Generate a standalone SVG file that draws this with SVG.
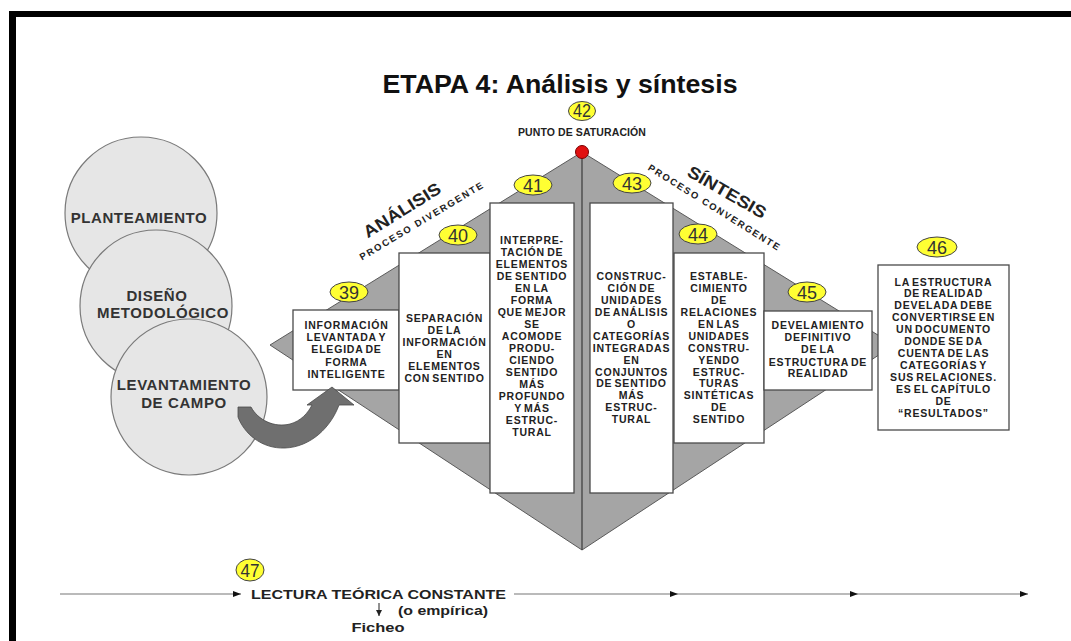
<svg xmlns="http://www.w3.org/2000/svg" width="1071" height="641" viewBox="0 0 1071 641">
<style>
text{font-family:"Liberation Sans",Arial,sans-serif}
.frame{fill:#000}
.dia{fill:#a5a5a5;stroke:#5a5a5a;stroke-width:1}
.circ{fill:#e6e6e6;stroke:#7a7a7a;stroke-width:1.2}
.ct{font-size:15px;font-weight:bold;fill:#333;text-anchor:middle;letter-spacing:0.6px}
.box{fill:#fff;stroke:#4a4a4a;stroke-width:1.3}
.bt{font-size:10.5px;font-weight:bold;fill:#222;text-anchor:middle;letter-spacing:0.8px;word-spacing:-1.5px}
.lab{fill:#ffff33;stroke:#444;stroke-width:1}
.num{font-size:18px;fill:#333;text-anchor:middle}
.rot{font-weight:bold;fill:#222;text-anchor:middle}
.tl{stroke:#777;stroke-width:1.2;fill:none}
.bot{font-weight:bold;fill:#222}
</style>
<defs>
<marker id="ah" viewBox="0 0 8 6" refX="8" refY="3" markerWidth="8" markerHeight="6" markerUnits="userSpaceOnUse" orient="auto">
<path d="M0,0 L8,3 L0,6 Z" fill="#111"/>
</marker>
<marker id="ah2" viewBox="0 0 6 6" refX="6" refY="3" markerWidth="6" markerHeight="6" markerUnits="userSpaceOnUse" orient="auto">
<path d="M0,0 L6,3 L0,6 Z" fill="#222"/>
</marker>
</defs>
<rect width="1071" height="641" fill="#fff"/>
<g id="frame">
<rect class="frame" x="9" y="11" width="7" height="630"/>
<rect class="frame" x="9" y="11" width="1062" height="6"/>
</g>
<g id="title">
<text x="560" y="93" font-size="25" font-weight="bold" fill="#111" text-anchor="middle" textLength="355" lengthAdjust="spacingAndGlyphs">ETAPA 4: Análisis y síntesis</text>
</g>
<g id="circles">
<g id="planteamiento">
<circle class="circ" cx="141" cy="213" r="76"/>
<text class="ct" x="139" y="222.5">PLANTEAMIENTO</text>
</g>
<g id="diseno">
<circle class="circ" cx="156" cy="306" r="76"/>
<text class="ct" x="157" y="301">DISEÑO</text>
<text class="ct" x="163" y="317.5">METODOLÓGICO</text>
</g>
<g id="levantamiento">
<circle class="circ" cx="189" cy="397" r="78"/>
<text class="ct" x="184" y="389.5">LEVANTAMIENTO</text>
<text class="ct" x="184" y="407.5">DE CAMPO</text>
</g>
</g>
<g id="diamond">
<path class="dia" d="M582,152 L894,345 L582,550 L270,345 Z"/>
<line x1="582" y1="152" x2="582" y2="550" stroke="#3a3a3a" stroke-width="1.2"/>
</g>
<g id="saturacion">
<ellipse class="lab" cx="582" cy="111" rx="13.5" ry="9.5"/>
<text class="num" x="582" y="117" font-size="16" textLength="18" lengthAdjust="spacingAndGlyphs">42</text>
<text x="582" y="136" font-size="10.5" font-weight="bold" fill="#222" text-anchor="middle" letter-spacing="0.1">PUNTO DE SATURACIÓN</text>
<circle cx="582" cy="152" r="6.5" fill="#e01010" stroke="#7a0000" stroke-width="1"/>
</g>
<g id="analisis-label">
<text class="rot" font-size="17" transform="translate(402,210) rotate(-32)" y="6" textLength="88" lengthAdjust="spacingAndGlyphs">ANÁLISIS</text>
<text class="rot" font-size="9.5" transform="translate(421,221) rotate(-31)" y="3.5" textLength="142" lengthAdjust="spacing">PROCESO DIVERGENTE</text>
</g>
<g id="sintesis-label">
<text class="rot" font-size="17" transform="translate(727,192) rotate(30)" y="6" textLength="88" lengthAdjust="spacingAndGlyphs">SÍNTESIS</text>
<text class="rot" font-size="9.5" transform="translate(714,207) rotate(32)" y="3.5" textLength="153" lengthAdjust="spacing">PROCESO CONVERGENTE</text>
</g>
<g id="n39">
<rect class="box" x="293" y="310" width="106" height="80"/>
<text class="bt" x="346.5" y="329"><tspan x="346.5">INFORMACIÓN</tspan><tspan x="346.5" dy="12.2">LEVANTADA Y</tspan><tspan x="346.5" dy="12.2">ELEGIDA DE</tspan><tspan x="346.5" dy="12.2">FORMA</tspan><tspan x="346.5" dy="12.2">INTELIGENTE</tspan></text>
<ellipse class="lab" cx="349" cy="292" rx="19" ry="10"/>
<text class="num" x="349" y="298.5">39</text>
</g>
<g id="n40">
<rect class="box" x="399" y="253" width="91" height="190"/>
<text class="bt" x="444.5" y="321.5"><tspan x="444.5">SEPARACIÓN</tspan><tspan x="444.5" dy="12.1">DE LA</tspan><tspan x="444.5" dy="12.1">INFORMACIÓN</tspan><tspan x="444.5" dy="12.1">EN</tspan><tspan x="444.5" dy="12.1">ELEMENTOS</tspan><tspan x="444.5" dy="12.1">CON SENTIDO</tspan></text>
<ellipse class="lab" cx="458" cy="235" rx="19" ry="10"/>
<text class="num" x="458" y="241.5">40</text>
</g>
<g id="n41">
<rect class="box" x="490" y="203" width="84" height="290"/>
<text class="bt" x="532" y="244"><tspan x="532">INTERPRE-</tspan><tspan x="532" dy="12">TACIÓN DE</tspan><tspan x="532" dy="12">ELEMENTOS</tspan><tspan x="532" dy="12">DE SENTIDO</tspan><tspan x="532" dy="12">EN LA</tspan><tspan x="532" dy="12">FORMA</tspan><tspan x="532" dy="12">QUE MEJOR</tspan><tspan x="532" dy="12">SE</tspan><tspan x="532" dy="12">ACOMODE</tspan><tspan x="532" dy="12">PRODU-</tspan><tspan x="532" dy="12">CIENDO</tspan><tspan x="532" dy="12">SENTIDO</tspan><tspan x="532" dy="12">MÁS</tspan><tspan x="532" dy="12">PROFUNDO</tspan><tspan x="532" dy="12">Y MÁS</tspan><tspan x="532" dy="12">ESTRUC-</tspan><tspan x="532" dy="12">TURAL</tspan></text>
<ellipse class="lab" cx="533" cy="185" rx="19" ry="10"/>
<text class="num" x="533" y="191.5">41</text>
</g>
<g id="n43">
<rect class="box" x="590" y="203" width="83" height="290"/>
<text class="bt" x="631.5" y="280"><tspan x="631.5">CONSTRUC-</tspan><tspan x="631.5" dy="11.94">CIÓN DE</tspan><tspan x="631.5" dy="11.94">UNIDADES</tspan><tspan x="631.5" dy="11.94">DE ANÁLISIS</tspan><tspan x="631.5" dy="11.94">O</tspan><tspan x="631.5" dy="11.94">CATEGORÍAS</tspan><tspan x="631.5" dy="11.94">INTEGRADAS</tspan><tspan x="631.5" dy="11.94">EN</tspan><tspan x="631.5" dy="11.94">CONJUNTOS</tspan><tspan x="631.5" dy="11.94">DE SENTIDO</tspan><tspan x="631.5" dy="11.94">MÁS</tspan><tspan x="631.5" dy="11.94">ESTRUC-</tspan><tspan x="631.5" dy="11.94">TURAL</tspan></text>
<ellipse class="lab" cx="632" cy="183" rx="19" ry="10"/>
<text class="num" x="632" y="189.5">43</text>
</g>
<g id="n44">
<rect class="box" x="674" y="253" width="90" height="190"/>
<text class="bt" x="719" y="280"><tspan x="719">ESTABLE-</tspan><tspan x="719" dy="11.94">CIMIENTO</tspan><tspan x="719" dy="11.94">DE</tspan><tspan x="719" dy="11.94">RELACIONES</tspan><tspan x="719" dy="11.94">EN LAS</tspan><tspan x="719" dy="11.94">UNIDADES</tspan><tspan x="719" dy="11.94">CONSTRU-</tspan><tspan x="719" dy="11.94">YENDO</tspan><tspan x="719" dy="11.94">ESTRUC-</tspan><tspan x="719" dy="11.94">TURAS</tspan><tspan x="719" dy="11.94">SINTÉTICAS</tspan><tspan x="719" dy="11.94">DE</tspan><tspan x="719" dy="11.94">SENTIDO</tspan></text>
<ellipse class="lab" cx="698" cy="234" rx="19" ry="10"/>
<text class="num" x="698" y="240.5">44</text>
</g>
<g id="n45">
<rect class="box" x="764" y="311" width="108" height="79"/>
<text class="bt" x="818" y="329"><tspan x="818">DEVELAMIENTO</tspan><tspan x="818" dy="12">DEFINITIVO</tspan><tspan x="818" dy="12">DE LA</tspan><tspan x="818" dy="12.5">ESTRUCTURA DE</tspan><tspan x="818" dy="11.5">REALIDAD</tspan></text>
<ellipse class="lab" cx="807" cy="292" rx="19" ry="10"/>
<text class="num" x="807" y="298.5">45</text>
</g>
<g id="n46">
<rect class="box" x="878" y="265" width="131" height="165"/>
<text class="bt" x="943.5" y="285.5"><tspan x="943.5">LA ESTRUCTURA</tspan><tspan x="943.5" dy="11.96">DE REALIDAD</tspan><tspan x="943.5" dy="11.96">DEVELADA DEBE</tspan><tspan x="943.5" dy="11.96">CONVERTIRSE EN</tspan><tspan x="943.5" dy="11.96">UN DOCUMENTO</tspan><tspan x="943.5" dy="11.96">DONDE SE DA</tspan><tspan x="943.5" dy="11.96">CUENTA DE LAS</tspan><tspan x="943.5" dy="11.96">CATEGORÍAS Y</tspan><tspan x="943.5" dy="11.96">SUS RELACIONES.</tspan><tspan x="943.5" dy="11.96">ES EL CAPÍTULO</tspan><tspan x="943.5" dy="11.96">DE</tspan><tspan x="943.5" dy="11.96">“RESULTADOS”</tspan></text>
<ellipse class="lab" cx="937" cy="247" rx="20" ry="10"/>
<text class="num" x="937" y="253.5">46</text>
</g>
<g id="n47">
<ellipse class="lab" cx="250" cy="570" rx="14" ry="11"/>
<text class="num" x="250" y="576.5" textLength="19" lengthAdjust="spacingAndGlyphs">47</text>
<text class="bot" x="251" y="599" font-size="13" textLength="255" lengthAdjust="spacingAndGlyphs">LECTURA TEÓRICA CONSTANTE</text>
<text class="bot" x="398" y="615" font-size="12" textLength="90" lengthAdjust="spacingAndGlyphs">(o empírica)</text>
<text class="bot" x="351.5" y="631.5" font-size="12" textLength="53" lengthAdjust="spacingAndGlyphs">Ficheo</text>
</g>
<g id="connectors">
<path d="M238,407 L251,407 C258,420 274,428 290,424 C301,421 308,413 312,405 L307,405 L332,387 L354,405 L339,405 C331,427 311,447 285,448 C261,449 244,433 238,417 Z" fill="#6f6f6f" stroke="#4a4a4a" stroke-width="0.8"/>
<line class="tl" x1="60" y1="594" x2="241" y2="594" marker-end="url(#ah)"/>
<line class="tl" x1="514" y1="594" x2="678" y2="594" marker-end="url(#ah)"/>
<line class="tl" x1="678" y1="594" x2="858" y2="594" marker-end="url(#ah)"/>
<line class="tl" x1="858" y1="594" x2="1028" y2="594" marker-end="url(#ah)"/>
<line x1="379" y1="603" x2="379" y2="616" stroke="#222" stroke-width="1" marker-end="url(#ah2)"/>
</g>
</svg>
